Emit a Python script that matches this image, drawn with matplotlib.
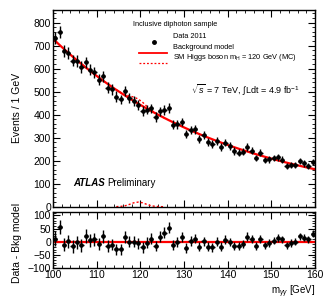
import matplotlib
matplotlib.use("Agg")
import matplotlib.pyplot as plt
from matplotlib.ticker import MultipleLocator
import numpy as np

plt.rcParams['font.family'] = ['Liberation Sans', 'DejaVu Sans']
plt.rcParams['mathtext.fontset'] = 'custom'
plt.rcParams['mathtext.rm'] = 'Liberation Sans'
plt.rcParams['mathtext.it'] = 'Liberation Sans:italic'

# bin centres 100.5 ... 159.5 GeV, 1 GeV bins
mass = np.arange(100.5, 160.0, 1.0)

data = [733, 759, 675, 670, 635, 634, 607, 627, 596, 585,
        552, 568, 518, 510, 479, 466, 502, 472, 460, 443,
        416, 422, 427, 390, 415, 420, 430, 356, 358, 368,
        316, 334, 336, 296, 310, 281, 272, 286, 260, 279,
        264, 242, 235, 239, 259, 243, 211, 234, 203, 206,
        211, 215, 205, 178, 182, 182, 198, 188, 178, 195]

bkg = [720.9, 703.1, 685.7, 668.8, 652.3, 636.2, 620.5, 605.2, 590.2, 575.6,
       561.4, 547.5, 534.0, 520.8, 507.9, 495.4, 483.2, 471.2, 459.6, 448.2,
       437.2, 426.4, 415.8, 405.6, 395.5, 385.8, 376.3, 367.0, 357.9, 349.1,
       340.4, 332.0, 323.8, 315.8, 308.0, 300.4, 293.0, 285.8, 278.7, 271.8,
       265.1, 258.6, 252.2, 246.0, 239.9, 234.0, 228.2, 222.5, 217.1, 211.7,
       206.5, 201.4, 196.4, 191.5, 186.8, 182.2, 177.7, 173.3, 169.0, 164.8]
bkg_ends = (730.0, 163.0)  # model value at 100 and 160 GeV

# SM Higgs 120 GeV signal (MC), bins 114.5 ... 125.5
sig_first = 14  # index of 114.5 in mass
signal = [0.3, 1.3, 4.0, 10.0, 17.0, 20.0, 17.0, 10.0, 4.0, 1.3, 0.3, 0.0]

data = np.array(data, dtype=float)
bkg = np.array(bkg)
err = np.sqrt(data)
resid = data - bkg

W, H = 332, 301
fig = plt.figure(figsize=(W / 100, H / 100), dpi=100)


def px(x, y):
    return x / W, 1 - y / H


ax = fig.add_axes([53 / W, 1 - 206.7 / H, 262 / W, 196.7 / H])
ax2 = fig.add_axes([53 / W, 1 - 268 / H, 262 / W, 55.7 / H])

curve_x = np.concatenate([[100.0], mass, [160.0]])
curve_y = np.concatenate([[bkg_ends[0]], bkg, [bkg_ends[1]]])
ax.plot(curve_x, curve_y, color='red', lw=1.6, zorder=2)

sig_x = mass[sig_first:sig_first + len(signal)]
sig_y = np.array(signal)
ax.plot(sig_x, bkg[sig_first:sig_first + len(signal)] + sig_y, color='red', lw=1.0, ls=(0, (1.5, 1.5)), zorder=2)
ax.plot(sig_x, sig_y, color='red', lw=1.0, ls=(0, (1.5, 1.5)), zorder=2, clip_on=False)

ax.errorbar(mass, data, yerr=err, xerr=0.5, fmt='o', ms=2.3, color='black',
            elinewidth=1.0, capsize=0, zorder=3)

ax.set_xlim(100, 160)
ax.set_ylim(0, 855)
ax.yaxis.set_major_locator(MultipleLocator(100))
ax.yaxis.set_minor_locator(MultipleLocator(20))
ax.xaxis.set_major_locator(MultipleLocator(10))
ax.xaxis.set_minor_locator(MultipleLocator(2))
ax.set_xticklabels([])
ax.set_ylabel('Events / 1 GeV', fontsize=7.5)

ax2.axhline(0, color='red', lw=1.6, zorder=2)
ax2.errorbar(mass, resid, yerr=err, xerr=0.5, fmt='o', ms=2.3, color='black',
             elinewidth=1.0, capsize=0, zorder=3)
ax2.set_xlim(100, 160)
ax2.set_ylim(-100, 112)
ax2.yaxis.set_major_locator(MultipleLocator(50))
ax2.yaxis.set_minor_locator(MultipleLocator(10))
ax2.xaxis.set_major_locator(MultipleLocator(10))
ax2.xaxis.set_minor_locator(MultipleLocator(2))
ax2.set_ylabel('Data - Bkg model', fontsize=7.5)

for a in (ax, ax2):
    a.tick_params(which='both', direction='in', top=True, right=True, labelsize=7.5, pad=1.5)
    a.tick_params(which='major', length=5, width=0.8)
    a.tick_params(which='minor', length=2.5, width=0.6)
    for s in a.spines.values():
        s.set_linewidth(1.0)
ax.yaxis.set_label_coords(-0.118, 0.5)
ax2.yaxis.set_label_coords(-0.118, 0.45)

fig.text(*px(315, 292), r'm$_{\gamma\gamma}$ [GeV]', fontsize=7, ha='right', va='center')

# legend block
fs = 5.3
fig.text(*px(133, 25), 'Inclusive diphoton sample', fontsize=fs, va='center')
ax.plot([0.384], [0.838], transform=ax.transAxes, marker='o', ms=2.5, color='black', clip_on=False)
fig.text(*px(173, 37), 'Data 2011', fontsize=fs, va='center')
ax.plot([0.33, 0.435], [0.782, 0.782], transform=ax.transAxes, color='red', lw=1.3)
fig.text(*px(173, 47.7), 'Background model', fontsize=fs, va='center')
ax.plot([0.33, 0.435], [0.732, 0.732], transform=ax.transAxes, color='red', lw=0.9, ls=(0, (1.5, 1.5)))
fig.text(*px(173, 57.5), r'SM Higgs boson m$_{\rm H}$ = 120 GeV (MC)', fontsize=fs, va='center')

fig.text(*px(300, 90), r'$\sqrt{s}$ = 7 TeV, $\int$Ldt = 4.9 fb$^{-1}$', fontsize=6.5, ha='right', va='center')

fig.text(*px(73, 183), 'ATLAS', fontsize=7, fontweight='bold', fontstyle='italic', va='center')
fig.text(*px(107, 183), 'Preliminary', fontsize=7, va='center')

fig.savefig('out.png', dpi=100)
